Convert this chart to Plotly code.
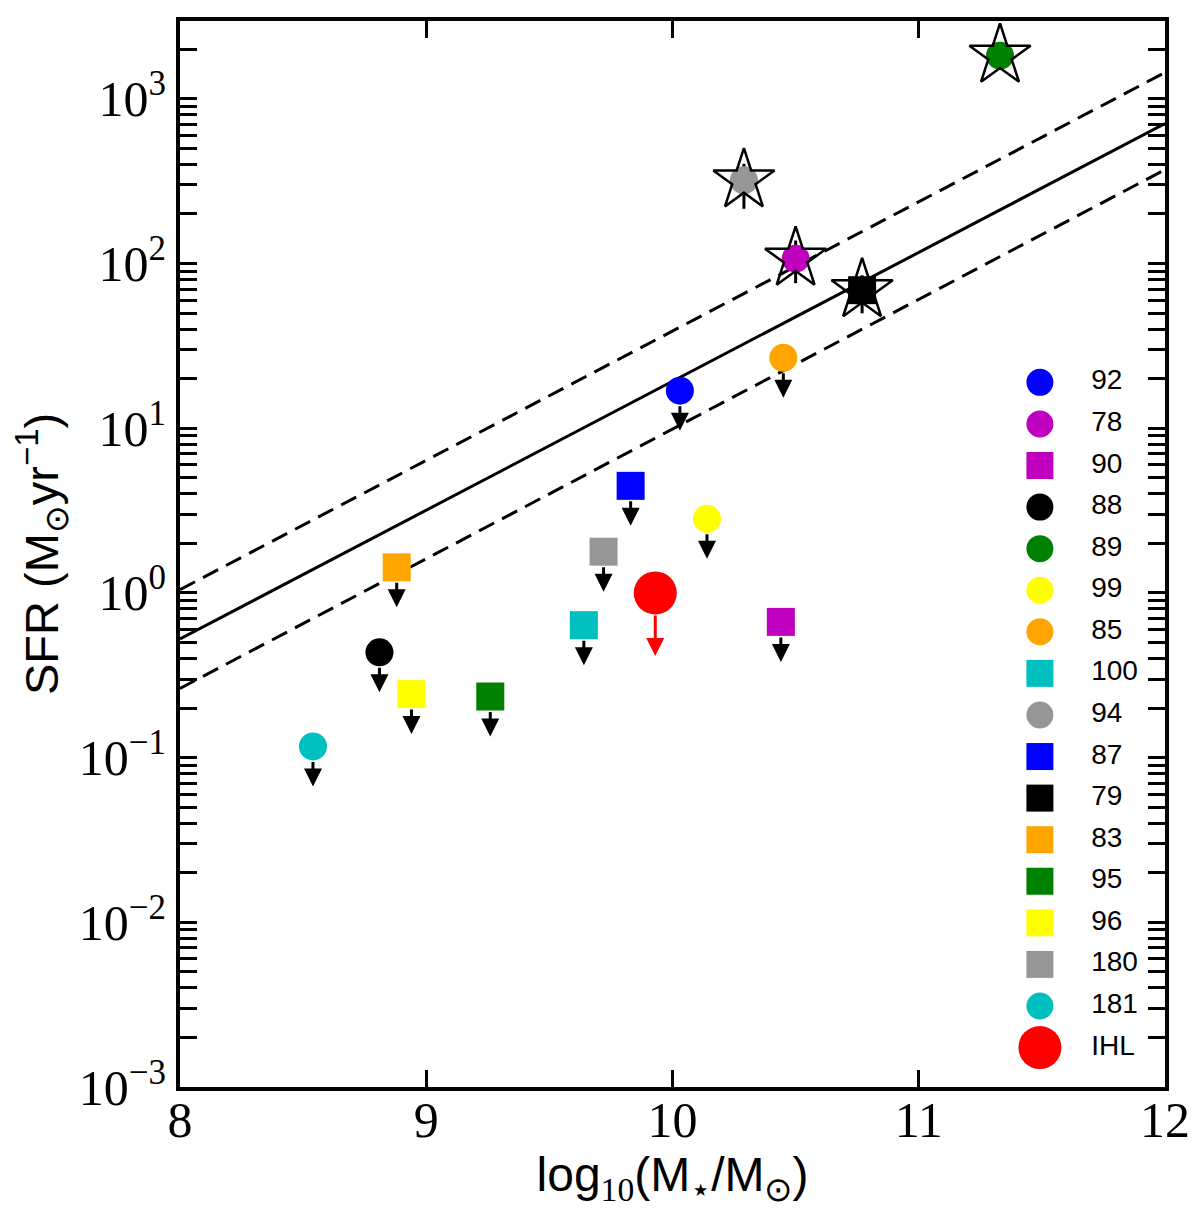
import numpy as np
import plotly.graph_objects as go

# galaxies: id, stellar mass (log10), SFR (Msun/yr)
labels = ['92', '78', '90', '88', '89', '99', '85', '100', '94', '87',
          '79', '83', '95', '96', '180', '181', 'IHL']
symbols = ['circle', 'circle', 'square', 'circle', 'circle', 'circle', 'circle',
           'square', 'circle', 'square', 'square', 'square', 'square', 'square',
           'square', 'circle', 'circle']
colors = ['#0000ff', '#bf00bf', '#bf00bf', '#000000', '#008000', '#ffff00',
          '#ffa500', '#00bfbf', '#969696', '#0000ff', '#000000', '#ffa500',
          '#008000', '#ffff00', '#969696', '#00bfbf', '#ff0000']
log_mass = [10.03, 10.50, 10.44, 8.81, 11.33, 10.14, 10.45, 9.64, 10.29, 9.83,
            10.77, 8.88, 9.26, 8.94, 9.72, 8.54, 9.93]
sfr = [16.9, 107, 0.667, 0.436, 1830, 2.82, 26.8, 0.637, 320, 4.47,
       68.9, 1.43, 0.235, 0.243, 1.78, 0.117, 1.0]
upper_limit = [True, False, True, True, False, True, True, True, False, True,
               False, True, True, True, True, True, True]
# detections (starred) with their error bars
star_ids = ['78', '89', '94', '79']
star_err_plus = [31, 0, 83, 16]
star_err_minus = [31, 0, 105, 19]

# main sequence fit and +-0.3 dex
ms_mass = [8, 12]
ms_log_sfr = [-0.28, 2.85]
ms_upper = [0.02, 3.16]
ms_lower = [-0.58, 2.57]

fig = go.Figure()

fig.add_trace(go.Scatter(x=ms_mass, y=10 ** np.array(ms_log_sfr), mode='lines',
                         line=dict(color='black', width=3), showlegend=False))
for band in [ms_upper, ms_lower]:
    fig.add_trace(go.Scatter(x=ms_mass, y=10 ** np.array(band), mode='lines',
                             line=dict(color='black', width=3, dash='17px,9px'),
                             showlegend=False))

# upper limit arrows, tail starts at the marker edge
annotations = []
for i in range(len(labels)):
    if not upper_limit[i]:
        continue
    big = labels[i] == 'IHL'
    length = 63 if big else 40
    radius = 21 if big else 14
    annotations.append(dict(x=log_mass[i], y=np.log10(sfr[i]), xref='x', yref='y',
                            text='', showarrow=True, ax=0, ay=-(length - radius),
                            yshift=-length, arrowhead=2, arrowsize=1.2, arrowwidth=3,
                            arrowcolor='#ff0000' if big else 'black'))

star_idx = [labels.index(s) for s in star_ids]
fig.add_trace(go.Scatter(
    x=[log_mass[i] for i in star_idx], y=[sfr[i] for i in star_idx], mode='markers',
    marker=dict(symbol='circle', size=1, color='black'),
    error_y=dict(type='data', array=star_err_plus, arrayminus=star_err_minus,
                 color='black', thickness=3, width=0),
    showlegend=False))

for i in range(len(labels)):
    fig.add_trace(go.Scatter(
        x=[log_mass[i]], y=[sfr[i]], mode='markers',
        marker=dict(symbol=symbols[i], size=43 if labels[i] == 'IHL' else 28,
                    color=colors[i], line=dict(width=0)),
        showlegend=False))

fig.add_trace(go.Scatter(
    x=[log_mass[i] for i in star_idx], y=[sfr[i] for i in star_idx], mode='markers',
    marker=dict(symbol='star-open', size=46, color='black', line=dict(width=2.5, color='black')),
    showlegend=False))

# hand-made legend on an overlay axis
leg_top = 0.661
leg_step = 0.039
for i in range(len(labels)):
    yy = leg_top - i * leg_step
    fig.add_trace(go.Scatter(
        x=[0.873], y=[yy], xaxis='x2', yaxis='y2', mode='markers',
        marker=dict(symbol=symbols[i], size=43 if labels[i] == 'IHL' else 27,
                    color=colors[i], line=dict(width=0)),
        showlegend=False))
    fig.add_trace(go.Scatter(
        x=[0.925], y=[yy], xaxis='x2', yaxis='y2', mode='text', text=[labels[i]],
        textposition='middle right',
        textfont=dict(family='Liberation Sans', size=28, color='black'),
        showlegend=False))

y_major = [1e-3, 1e-2, 1e-1, 1, 10, 100, 1000]
y_major_text = ['10<sup>−3</sup>', '10<sup>−2</sup>', '10<sup>−1</sup>', '10<sup>0</sup>',
                '10<sup>1</sup>', '10<sup>2</sup>', '10<sup>3</sup>']
y_minor = [k * 10.0 ** p for p in range(-3, 4) for k in range(2, 10) if k * 10.0 ** p < 3000]

fig.update_layout(
    width=1192, height=1201,
    margin=dict(l=172, r=35, t=9, b=122),
    plot_bgcolor='white', paper_bgcolor='white',
    annotations=annotations,
    xaxis=dict(range=[8, 12], tickvals=[8, 9, 10, 11, 12], ticks='inside', ticklen=17,
               tickwidth=3, tickcolor='black', showline=True, linewidth=4, linecolor='black',
               mirror='allticks', showgrid=False, zeroline=False, ticklabelstandoff=-14,
               tickfont=dict(family='Liberation Serif', size=50, color='black'),
               title=dict(text='log<sub><span style="font-family:Liberation Serif">10</span></sub>'
                               '(M<sub>⋆</sub>/M<sub>⊙</sub>)',
                          font=dict(family='Liberation Sans', size=48, color='black'),
                          standoff=8)),
    yaxis=dict(type='log', range=[-3, np.log10(2970)], tickvals=y_major, ticktext=y_major_text,
               ticks='inside', ticklen=17, tickwidth=3, tickcolor='black',
               showline=True, linewidth=4, linecolor='black', mirror='allticks',
               showgrid=False, zeroline=False,
               minor=dict(tickvals=y_minor, ticks='inside', ticklen=17, tickwidth=3,
                          tickcolor='black', showgrid=False),
               tickfont=dict(family='Liberation Serif', size=50, color='black'),
               title=dict(text='SFR (M<sub>⊙</sub>yr<sup>−1</sup>)',
                          font=dict(family='Liberation Sans', size=47, color='black'),
                          standoff=26)),
    xaxis2=dict(overlaying='x', range=[0, 1], visible=False, fixedrange=True),
    yaxis2=dict(overlaying='y', range=[0, 1], visible=False, fixedrange=True),
)

fig.write_html("out.html")
